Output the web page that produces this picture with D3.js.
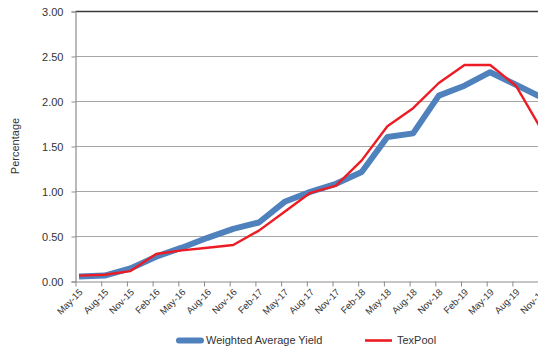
<!DOCTYPE html>
<html>
<head>
<meta charset="utf-8">
<script src="https://cdn.jsdelivr.net/npm/d3@7/dist/d3.min.js"></script>
<style>
  html, body { margin: 0; padding: 0; background: #fff; }
  svg { display: block; font-family: Arial, "Liberation Sans", sans-serif; }
</style>
</head>
<body>
<svg id="chart" width="538" height="347"></svg>
<script>
// Quarterly observations
const quarters = ["May-15","Aug-15","Nov-15","Feb-16","May-16","Aug-16","Nov-16","Feb-17","May-17",
  "Aug-17","Nov-17","Feb-18","May-18","Aug-18","Nov-18","Feb-19","May-19","Aug-19","Nov-19"];
const weightedAvgYield = [0.05,0.06,0.14,0.27,0.37,0.48,0.58,0.65,0.88,0.99,1.08,1.21,1.60,1.64,2.06,2.17,2.32,2.18,2.04];
const texPool = [0.06,0.07,0.11,0.30,0.34,0.37,0.40,0.56,0.77,0.98,1.06,1.34,1.72,1.92,2.20,2.40,2.40,2.17,1.68];
const yTicks = [0, 0.5, 1.0, 1.5, 2.0, 2.5, 3.0];

const svg = d3.select("#chart");
const plotLeft = 75.5, plotTop = 11, plotBottom = 281;

// Category axis: ticks sit on the quarter boundaries, the series points a little after
const x = d3.scalePoint().domain(quarters).range([plotLeft, plotLeft + 25.7 * (quarters.length - 1)]);
const pointShift = 3.5;
const y = d3.scaleLinear().domain([0, 3]).range([plotBottom, plotTop]);

// Gridlines
svg.append("g").selectAll("line").data(yTicks.filter(d => d > 0)).join("line")
  .attr("x1", plotLeft).attr("x2", 538)
  .attr("y1", d => Math.round(y(d)) + 0.5).attr("y2", d => Math.round(y(d)) + 0.5)
  .attr("stroke", d => d === 3 ? "#3a3a3a" : "#a6a6a6")
  .attr("stroke-width", d => d === 3 ? 1.6 : 1.2);

// Y axis
const yAxis = d3.axisLeft(y).tickValues(yTicks).tickFormat(d3.format(".2f")).tickSize(4).tickPadding(8);
const gy = svg.append("g").attr("transform", `translate(${plotLeft},0.5)`).call(yAxis);
gy.select(".domain").attr("stroke", "#8c8c8c").attr("stroke-width", 1.2);
gy.selectAll(".tick line").attr("stroke", "#8c8c8c");
gy.selectAll(".tick text").attr("font-size", 11).attr("fill", "#333")
  .attr("font-family", "Arial, 'Liberation Sans', sans-serif");

// X axis
const xAxis = d3.axisBottom(x).tickSize(5).tickSizeOuter(0);
const gx = svg.append("g").attr("transform", `translate(0,${plotBottom + 0.5})`).call(xAxis);
gx.select(".domain").attr("stroke", "#8c8c8c").attr("stroke-width", 1.2);
gx.selectAll(".tick line").attr("stroke", "#8c8c8c");
gx.selectAll(".tick text")
  .attr("font-size", 9.5).attr("fill", "#333")
  .attr("font-family", "Arial, 'Liberation Sans', sans-serif")
  .attr("text-anchor", "end")
  .attr("transform", "translate(5,9) rotate(-45)")
  .attr("x", 0).attr("y", 0).attr("dy", "0.35em");

// Y axis title
svg.append("text")
  .attr("transform", `translate(19,${(plotTop + plotBottom) / 2}) rotate(-90)`)
  .attr("text-anchor", "middle")
  .attr("font-size", 11).attr("fill", "#333")
  .text("Percentage");

// Series lines
const line = vals => d3.line()
  .x((d, i) => x(quarters[i]) + pointShift)
  .y(d => y(d))(vals);

svg.append("path").attr("d", line(weightedAvgYield))
  .attr("fill", "none").attr("stroke", "#4f81bd").attr("stroke-width", 6)
  .attr("stroke-linejoin", "round");
svg.append("path").attr("d", line(texPool))
  .attr("fill", "none").attr("stroke", "#ed1c24").attr("stroke-width", 2.4)
  .attr("stroke-linejoin", "round");

// Legend
const legend = [
  { name: "Weighted Average Yield", color: "#4f81bd", width: 6, x: 179, len: 22, cap: "round" },
  { name: "TexPool", color: "#ed1c24", width: 2.6, x: 365, len: 27, cap: "butt" }
];
const lg = svg.append("g").selectAll("g").data(legend).join("g")
  .attr("transform", d => `translate(${d.x},340.5)`);
lg.append("line").attr("x1", 0).attr("x2", d => d.len).attr("y1", 0).attr("y2", 0)
  .attr("stroke", d => d.color).attr("stroke-width", d => d.width).attr("stroke-linecap", d => d.cap);
lg.append("text").attr("x", d => d.len + 5).attr("dy", "0.35em")
  .attr("font-size", 11).attr("fill", "#333").text(d => d.name);
</script>
</body>
</html>
